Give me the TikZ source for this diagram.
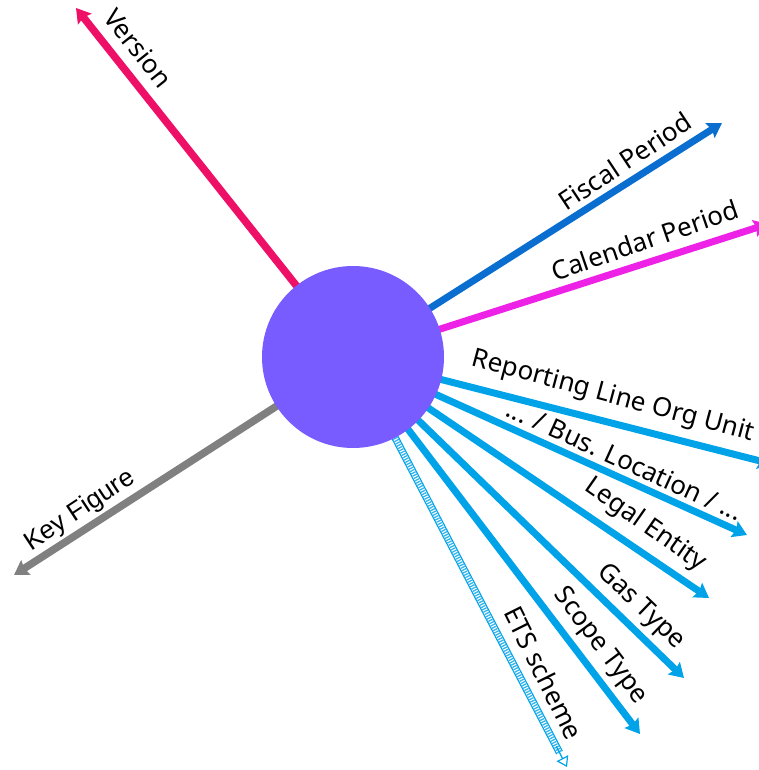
\documentclass[tikz,border=0pt]{standalone}
\usepackage{fontspec}
\setmainfont{Noto Sans}
\newfontfamily\arialf{Liberation Sans}
\usetikzlibrary{arrows.meta,calc,backgrounds}
\definecolor{hubc}{RGB}{121,92,255}
\definecolor{verc}{RGB}{238,16,102}
\definecolor{fisc}{RGB}{10,110,209}
\definecolor{calc}{RGB}{238,34,230}
\definecolor{ltblue}{RGB}{0,162,232}
\definecolor{grayc}{RGB}{128,128,128}
\begin{document}
\begin{tikzpicture}[x=1pt,y=-1pt,
  ray/.style={line width=7pt, -{Stealth[length=14pt,width=17pt,inset=2pt]}},
  lbl/.style={font=\fontsize{26}{28}\selectfont, inner sep=0pt}]
\useasboundingbox (0,0) rectangle (758,770);
\clip (0,0) rectangle (758,770);
\node[circle, fill=hubc, minimum size=182pt, inner sep=0pt] (hub) at (353,357) {};
\coordinate (ver) at (76,8);
\coordinate (fis) at (722,123);
\coordinate (cal) at (768,224);
\coordinate (rep) at (772,464);
\coordinate (bus) at (747,535);
\coordinate (leg) at (709,598);
\coordinate (gas) at (684,678);
\coordinate (sco) at (640,734);
\coordinate (ets) at (567,767);
\coordinate (etsb) at ($(hub)!0.965!(ets)$);
\coordinate (key) at (14,575);
\begin{pgfonlayer}{background}
\draw[ray, verc, line width=7.5pt] (hub.center) -- (ver);
\draw[ray, fisc] (hub.center) -- (fis);
\draw[ray, calc] (hub.center) -- (cal);
\draw[ray, ltblue] (hub.center) -- (rep);
\draw[ray, ltblue] (hub.center) -- (bus);
\draw[ray, ltblue] (hub.center) -- (leg);
\draw[ray, ltblue] (hub.center) -- (gas);
\draw[ray, ltblue] (hub.center) -- (sco);
\draw[ltblue, line width=7.5pt] (hub.center) -- (etsb);
\draw[white, line width=5pt] (hub.center) -- (etsb);
\draw[ltblue!80, line width=5pt, dash pattern=on 1.3pt off 1.3pt] (hub.center) -- (etsb);
\draw[ltblue, line width=1.2pt, -{Triangle[open, length=10pt, width=13pt, fill=white]}] ($(hub)!0.95!(ets)$) -- (ets);
\draw[ray, grayc, line width=7.5pt] (hub.center) -- (key);
\end{pgfonlayer}
\node[lbl, rotate=-51.5] (tver) at (138,48) {Version};
\node[lbl, rotate=33.5] (tfis) at (625,161) {Fiscal Period};
\node[lbl, rotate=19] (tcal) at (645,240) {Calendar Period};
\node[lbl, rotate=-15] (trep) at (613,397) {Reporting Line Org Unit};
\node[lbl, rotate=-24.5] (tbus) at (625,460) {... / Bus. Location / ...};
\node[lbl, rotate=-35] (tleg) at (645,525) {Legal Entity};
\node[lbl, rotate=-44] (tgas) at (641,607) {Gas Type};
\node[lbl, rotate=-53] (tsco) at (600,646) {Scope Type};
\node[lbl, rotate=-63.5] (tets) at (544,673) {ETS scheme};
\node[lbl, rotate=33.4, font=\arialf\fontsize{26}{28}\selectfont] (tkey) at (80,511) {Key Figure};
\end{tikzpicture}
\end{document}
